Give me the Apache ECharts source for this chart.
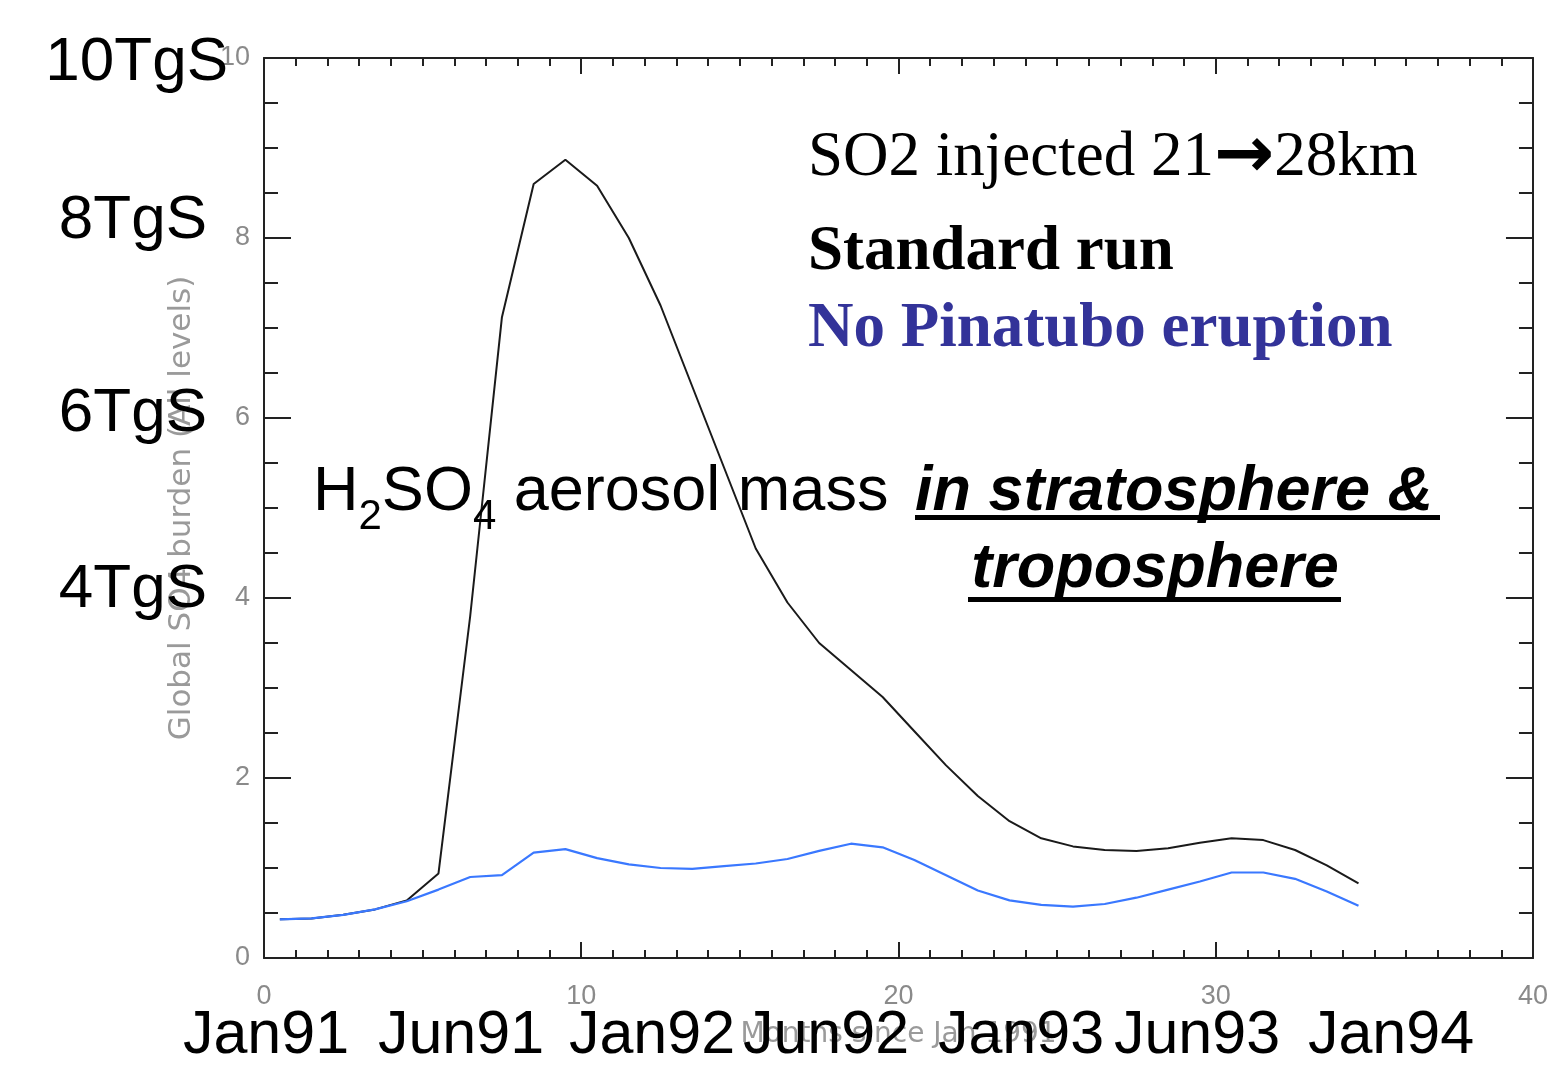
<!DOCTYPE html>
<html>
<head>
<meta charset="utf-8">
<script src="https://cdn.jsdelivr.net/npm/echarts@6/dist/echarts.min.js"></script>
<style>
  html, body { margin: 0; padding: 0; background: #fff; }
  #chart { width: 1551px; height: 1073px; }
</style>
</head>
<body>
<div id="chart"></div>
<script>
// months since Jan 1991 (mid-month samples)
const months = [0.5, 1.5, 2.5, 3.5, 4.5, 5.5, 6.5, 7.5, 8.5, 9.5, 10.5, 11.5, 12.5, 13.5, 14.5, 15.5, 16.5, 17.5,
  18.5, 19.5, 20.5, 21.5, 22.5, 23.5, 24.5, 25.5, 26.5, 27.5, 28.5, 29.5, 30.5, 31.5, 32.5, 33.5, 34.5];
// global SO4 burden, standard run
const standardRun = [0.43, 0.44, 0.48, 0.54, 0.64, 0.94, 3.8, 7.12, 8.6, 8.87, 8.58, 8.0, 7.25, 6.35, 5.45, 4.55, 3.95, 3.5,
  3.2, 2.9, 2.52, 2.14, 1.8, 1.52, 1.33, 1.24, 1.2, 1.19, 1.22, 1.28, 1.33, 1.31, 1.2, 1.03, 0.83];
// no Pinatubo eruption
const noEruption = [0.43, 0.44, 0.48, 0.54, 0.63, 0.76, 0.9, 0.92, 1.17, 1.21, 1.11, 1.04, 1.0, 0.99, 1.02, 1.05, 1.1, 1.19,
  1.27, 1.23, 1.09, 0.92, 0.75, 0.64, 0.59, 0.57, 0.6, 0.67, 0.76, 0.85, 0.95, 0.95, 0.88, 0.74, 0.58];

const yBigLabels = ['10TgS', '8TgS', '6TgS', '4TgS'];
const dateLabels = ['Jan91', 'Jun91', 'Jan92', 'Jun92', 'Jan93', 'Jun93', 'Jan94'];

const pairs = (ys) => months.map((m, i) => [m, ys[i]]);

const gray = '#8a8a8a';
const sans = '"Liberation Sans", Arial, sans-serif';
const serif = '"Liberation Serif", "Times New Roman", serif';

function xAxisCfg(pos, withLabels) {
  return {
    type: 'value', position: pos, min: 0, max: 40, interval: 10,
    axisLine: { show: true, onZero: false, lineStyle: { color: '#222', width: 2 } },
    axisTick: { show: true, inside: true, length: 16, lineStyle: { color: '#222', width: 2 } },
    minorTick: { show: true, splitNumber: 10, length: 8, lineStyle: { color: '#222', width: 2 } },
    splitLine: { show: false },
    axisLabel: { show: withLabels, color: gray, fontSize: 27, fontFamily: sans, margin: 25 },
    name: withLabels ? 'Months since Jan 1991' : '',
    nameLocation: 'middle', nameGap: 63,
    nameTextStyle: { color: '#9a9a9a', fontSize: 28, fontFamily: '"DejaVu Sans"' }
  };
}

function yAxisCfg(pos, withLabels) {
  return {
    type: 'value', position: pos, min: 0, max: 10, interval: 2,
    axisLine: { show: true, onZero: false, lineStyle: { color: '#222', width: 2 } },
    axisTick: { show: true, inside: true, length: 27, lineStyle: { color: '#222', width: 2 } },
    minorTick: { show: true, splitNumber: 4, length: 14, lineStyle: { color: '#222', width: 2 } },
    splitLine: { show: false },
    axisLabel: { show: withLabels, color: gray, fontSize: 27, fontFamily: sans, margin: 14 },
    name: withLabels ? 'Global SO4 burden (All levels)' : '',
    nameLocation: 'middle', nameGap: 67, nameRotate: 90,
    nameTextStyle: { color: '#9a9a9a', fontSize: 31, fontFamily: '"DejaVu Sans"' }
  };
}

const chart = echarts.init(document.getElementById('chart'));

// big overlay labels
const yBigPos = [[228, 63], [207, 221], [207, 414], [207, 590]];
const datePos = [266, 461, 652, 826, 1021, 1197, 1391];

const graphics = [];
yBigLabels.forEach((t, i) => {
  graphics.push({
    type: 'text', z: 100, x: yBigPos[i][0], y: yBigPos[i][1],
    style: { text: t, fill: '#000', font: '62px ' + sans, textAlign: 'right', textVerticalAlign: 'middle' }
  });
});
dateLabels.forEach((t, i) => {
  graphics.push({
    type: 'text', z: 100, x: datePos[i], y: 1036,
    style: { text: t, fill: '#000', font: '61px ' + sans, textAlign: 'center', textVerticalAlign: 'middle' }
  });
});
graphics.push(
  {
    type: 'text', z: 100, x: 808, y: 158,
    style: {
      text: '{t|SO2 injected 21}{a|\u2192}{t|28km}',
      textAlign: 'left', textVerticalAlign: 'middle',
      rich: {
        t: { fontSize: 63, fontFamily: serif, color: '#000', lineHeight: 76 },
        a: { fontSize: 72, fontFamily: '"DejaVu Sans"', fontWeight: 'bold', color: '#000', lineHeight: 76 }
      }
    }
  },
  {
    type: 'text', z: 100, x: 808, y: 253,
    style: { text: 'Standard run', fill: '#000', font: 'bold 63px ' + serif, textAlign: 'left', textVerticalAlign: 'middle' }
  },
  {
    type: 'text', z: 100, x: 808, y: 330,
    style: { text: 'No Pinatubo eruption', fill: '#333399', font: 'bold 63px ' + serif, textAlign: 'left', textVerticalAlign: 'middle' }
  },
  {
    type: 'text', z: 100, x: 313, y: 493,
    style: {
      text: '{n|H}{s|2}{n|SO}{s|4}{n| aerosol mass}',
      textAlign: 'left', textVerticalAlign: 'middle',
      rich: {
        n: { fontSize: 63, fontFamily: sans, color: '#000', lineHeight: 90, verticalAlign: 'middle' },
        s: { fontSize: 42, fontFamily: sans, color: '#000', lineHeight: 90, verticalAlign: 'bottom' }
      }
    }
  },
  {
    type: 'text', z: 100, x: 915, y: 493,
    style: { text: 'in stratosphere &', fill: '#000', font: 'italic bold 63px ' + sans, textAlign: 'left', textVerticalAlign: 'middle' }
  },
  { type: 'rect', z: 100, shape: { x: 915, y: 515, width: 525, height: 5 }, style: { fill: '#000' } },
  {
    type: 'text', z: 100, x: 1155, y: 570,
    style: { text: 'troposphere', fill: '#000', font: 'italic bold 63px ' + sans, textAlign: 'center', textVerticalAlign: 'middle' }
  },
  { type: 'rect', z: 100, shape: { x: 968, y: 597, width: 373, height: 5 }, style: { fill: '#000' } }
);

chart.setOption({
  backgroundColor: '#fff',
  animation: false,
  grid: { left: 264, right: 16, top: 58, bottom: 115, containLabel: false },
  xAxis: [xAxisCfg('bottom', true), xAxisCfg('top', false)],
  yAxis: [yAxisCfg('left', true), yAxisCfg('right', false)],
  series: [
    {
      name: 'Standard run', type: 'line', xAxisIndex: 0, yAxisIndex: 0,
      data: pairs(standardRun), showSymbol: false, smooth: false,
      lineStyle: { color: '#1a1a1a', width: 2 }
    },
    {
      name: 'No Pinatubo eruption', type: 'line', xAxisIndex: 0, yAxisIndex: 0,
      data: pairs(noEruption), showSymbol: false, smooth: false,
      lineStyle: { color: '#3a78ff', width: 2.2 }
    }
  ],
  graphic: graphics
});
</script>
</body>
</html>
